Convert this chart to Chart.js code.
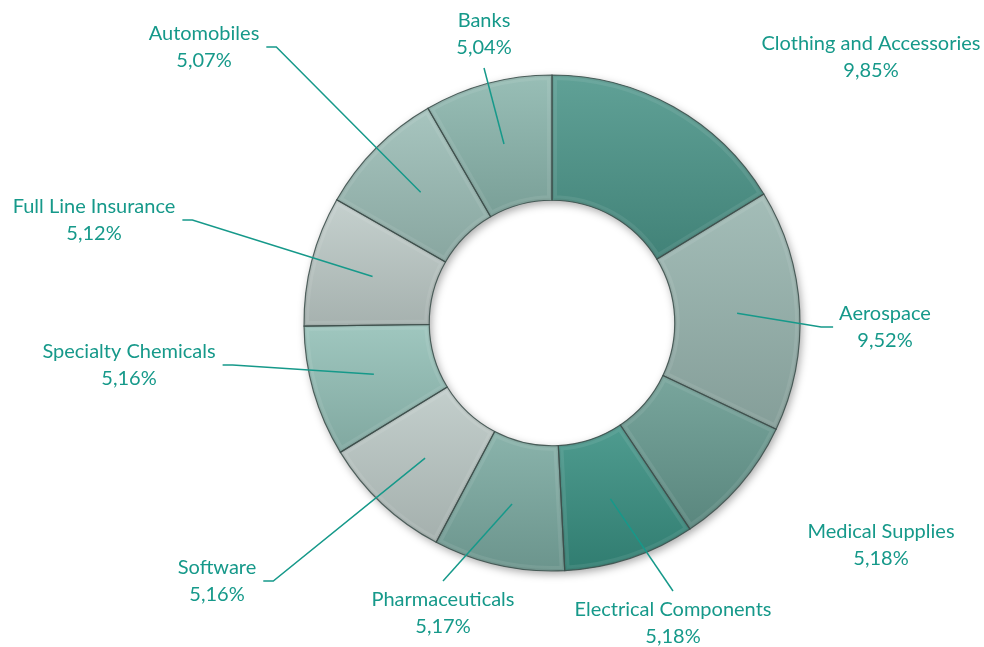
<!DOCTYPE html>
<html>
<head>
<meta charset="utf-8">
<script src="https://cdn.jsdelivr.net/npm/chart.js@4.4.0/dist/chart.umd.min.js"></script>
<style>
  html, body { margin: 0; padding: 0; background: #fff; }
  #wrap { width: 984px; height: 647px; }
</style>
</head>
<body>
<div id="wrap"><canvas id="donut" width="984" height="647"></canvas></div>
<script>
// sector names and their share of the portfolio (%)
const categories = ['Clothing and Accessories', 'Aerospace', 'Medical Supplies', 'Electrical Components',
  'Pharmaceuticals', 'Software', 'Specialty Chemicals', 'Full Line Insurance', 'Automobiles', 'Banks'];
const shares = [9.85, 9.52, 5.18, 5.18, 5.17, 5.16, 5.16, 5.12, 5.07, 5.04];
const shareLabels = shares.map(v => v.toFixed(2).replace('.', ',') + '%');

const sliceColors = ['#4A9488', '#97B4AE', '#66998F', '#378E80', '#7AA9A0',
  '#BBC8C5', '#92BFB6', '#BDCAC7', '#9BBDB6', '#8AB5AC'];

// where each label sits (center of first text line) and where its leader line attaches
const labelSpots = [
  [871, 44, 'none'], [885, 314, 'left'], [881, 532, 'none'], [673, 610, 'top'], [443, 600, 'top'],
  [217, 568, 'right'], [129, 352, 'right'], [94, 207, 'right'], [204, 34, 'right'], [484, 21, 'bottom']
];

const textColor = '#16998A';
const labelFont = '20px Lato, "Open Sans", sans-serif';

function arcPath(ctx, a) {
  ctx.beginPath();
  ctx.arc(a.x, a.y, a.outerRadius, a.startAngle, a.endAngle);
  ctx.arc(a.x, a.y, a.innerRadius, a.endAngle, a.startAngle, true);
  ctx.closePath();
}

const bevelPlugin = {
  id: 'bevel',
  beforeDatasetsDraw(chart) {
    let ctx = chart.ctx;
    let meta = chart.getDatasetMeta(0);
    if (!meta.data.length) return;
    let a = meta.data[0].getProps(['x', 'y', 'innerRadius', 'outerRadius'], true);
    ctx.save();
    ctx.shadowColor = 'rgba(0,0,0,0.35)';
    ctx.shadowBlur = 8;
    ctx.shadowOffsetX = 2;
    ctx.shadowOffsetY = 3;
    ctx.fillStyle = '#8aa';
    ctx.beginPath();
    ctx.arc(a.x, a.y, a.outerRadius, 0, Math.PI * 2);
    ctx.arc(a.x, a.y, a.innerRadius, Math.PI * 2, 0, true);
    ctx.fill();
    ctx.restore();
  },
  afterDatasetsDraw(chart) {
    let ctx = chart.ctx;
    chart.getDatasetMeta(0).data.forEach(el => {
      let a = el.getProps(['x', 'y', 'startAngle', 'endAngle', 'innerRadius', 'outerRadius'], true);
      // vertical extent of the slice, for the shading
      let top = Infinity, bottom = -Infinity;
      for (let i = 0; i <= 20; i++) {
        let t = a.startAngle + (a.endAngle - a.startAngle) * i / 20;
        [a.innerRadius, a.outerRadius].forEach(r => {
          let yy = a.y + r * Math.sin(t);
          top = Math.min(top, yy); bottom = Math.max(bottom, yy);
        });
      }
      ctx.save();
      arcPath(ctx, a);
      ctx.clip();
      let g = ctx.createLinearGradient(0, top, 0, bottom);
      g.addColorStop(0, 'rgba(255,255,255,0.12)');
      g.addColorStop(1, 'rgba(0,0,0,0.12)');
      ctx.fillStyle = g;
      ctx.fillRect(a.x - a.outerRadius, top - 2, a.outerRadius * 2, bottom - top + 4);
      // soft inner bevel
      arcPath(ctx, a);
      ctx.lineJoin = 'round';
      ctx.strokeStyle = 'rgba(255,255,255,0.08)';
      ctx.lineWidth = 10;
      ctx.stroke();
      ctx.strokeStyle = 'rgba(0,0,0,0.06)';
      ctx.lineWidth = 4;
      ctx.stroke();
      ctx.restore();
      ctx.save();
      arcPath(ctx, a);
      ctx.strokeStyle = 'rgba(60,78,74,0.85)';
      ctx.lineWidth = 1.2;
      ctx.stroke();
      ctx.restore();
    });
  }
};

const labelPlugin = {
  id: 'sliceLabels',
  afterDraw(chart) {
    let ctx = chart.ctx;
    ctx.save();
    ctx.font = labelFont;
    ctx.fillStyle = textColor;
    ctx.strokeStyle = textColor;
    ctx.lineWidth = 1.5;
    ctx.textAlign = 'center';
    ctx.textBaseline = 'middle';
    chart.getDatasetMeta(0).data.forEach((el, i) => {
      let [lx, ly, side] = labelSpots[i];
      ctx.fillText(categories[i], lx, ly);
      ctx.fillText(shareLabels[i], lx, ly + 27);
      if (side == 'none') return;
      let a = el.getProps(['x', 'y', 'startAngle', 'endAngle', 'innerRadius', 'outerRadius'], true);
      let mid = (a.startAngle + a.endAngle) / 2;
      let r = (a.innerRadius + a.outerRadius) / 2;
      let px = a.x + r * Math.cos(mid), py = a.y + r * Math.sin(mid);
      let w = ctx.measureText(categories[i]).width;
      ctx.beginPath();
      if (side == 'left') {
        ctx.moveTo(lx - w / 2 - 6, ly + 13);
        ctx.lineTo(lx - w / 2 - 18, ly + 13);
      } else if (side == 'right') {
        ctx.moveTo(lx + w / 2 + 7, ly + 13);
        ctx.lineTo(lx + w / 2 + 17, ly + 13);
      } else if (side == 'top') {
        ctx.moveTo(lx, ly - 19);
      } else {
        ctx.moveTo(lx, ly + 47);
      }
      ctx.lineTo(px, py);
      ctx.stroke();
    });
    ctx.restore();
  }
};

let ctx = document.getElementById('donut').getContext('2d');
let chart = new Chart(ctx, {
  type: 'doughnut',
  data: {
    labels: categories,
    datasets: [{
      data: shares,
      backgroundColor: sliceColors,
      borderWidth: 0
    }]
  },
  options: {
    responsive: false,
    animation: false,
    cutout: '49.5%',
    layout: { padding: { top: 75, bottom: 76, left: 304, right: 184 } },
    plugins: {
      legend: { display: false },
      tooltip: { enabled: false }
    }
  },
  plugins: [bevelPlugin, labelPlugin]
});
</script>
</body>
</html>
